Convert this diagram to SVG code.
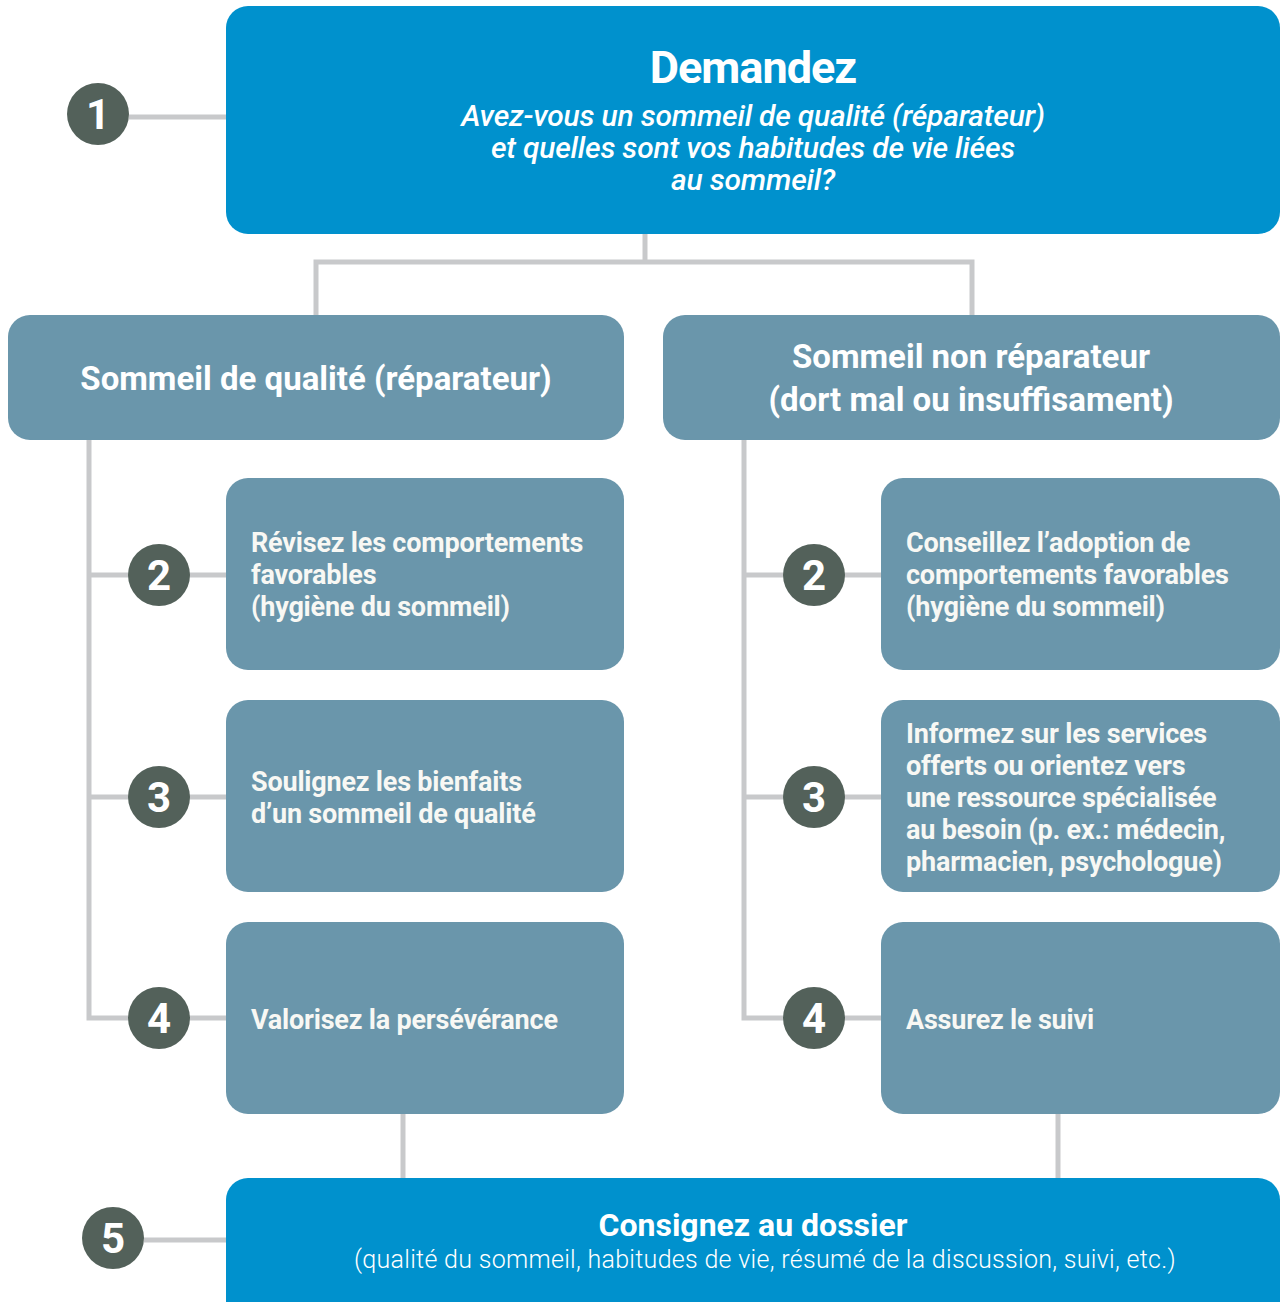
<svg xmlns="http://www.w3.org/2000/svg" width="1286" height="1302" viewBox="0 0 1286 1302">
<style>
.blue{fill:#0091cd}
.steel{fill:#6a96ab}
.circ{fill:#53615a}
.ln{stroke:#c8c9cb;stroke-width:5;fill:none}
.num{font-family:Roboto,"Liberation Sans",sans-serif;font-weight:700;font-size:42px;fill:#ffffff;text-anchor:middle}
.title{font-family:Roboto,"Liberation Sans",sans-serif;font-weight:700;fill:#ffffff;text-anchor:middle}
.it{font-family:Roboto,"Liberation Sans",sans-serif;font-style:italic;font-weight:500;font-size:30px;fill:#ffffff;text-anchor:middle;letter-spacing:-0.2px}
.body{font-family:Roboto,"Liberation Sans",sans-serif;font-weight:700;font-size:27px;fill:#f8f8f4;letter-spacing:-0.2px}
.sub{font-family:Roboto,"Liberation Sans",sans-serif;font-weight:300;font-size:25px;fill:#ffffff;text-anchor:middle;letter-spacing:0.3px}
</style>
<rect width="1286" height="1302" fill="#ffffff"/>
<g id="connectors">
<line class="ln" x1="129" y1="117" x2="228" y2="117"/>
<polyline class="ln" points="645,232 645,262"/>
<polyline class="ln" points="316,317 316,262 972,262 972,317"/>
<polyline class="ln" points="89,438 89,1018 228,1018"/>
<line class="ln" x1="89" y1="575" x2="228" y2="575"/>
<line class="ln" x1="89" y1="797" x2="228" y2="797"/>
<polyline class="ln" points="744,438 744,1018 883,1018"/>
<line class="ln" x1="744" y1="575" x2="883" y2="575"/>
<line class="ln" x1="744" y1="797" x2="883" y2="797"/>
<line class="ln" x1="403" y1="1112" x2="403" y2="1180"/>
<line class="ln" x1="1058" y1="1112" x2="1058" y2="1180"/>
<line class="ln" x1="144" y1="1240" x2="228" y2="1240"/>
</g>
<g id="n1">
<rect class="blue" x="226" y="6" width="1054" height="228" rx="22"/>
<text class="title" x="753" y="83" font-size="45" letter-spacing="-1">Demandez</text>
<text class="it" x="753" y="126">Avez-vous un sommeil de qualité (réparateur)</text>
<text class="it" x="753" y="158">et quelles sont vos habitudes de vie liées</text>
<text class="it" x="753" y="190">au sommeil?</text>
</g>
<g id="c1"><circle class="circ" cx="98" cy="114" r="31"/><text class="num" x="98" y="129">1</text></g>
<g id="left-head">
<rect class="steel" x="8" y="315" width="616" height="125" rx="22"/>
<text class="title" x="316" y="390" font-size="33">Sommeil de qualité (réparateur)</text>
</g>
<g id="right-head">
<rect class="steel" x="663" y="315" width="617" height="125" rx="22"/>
<text class="title" x="971" y="368" font-size="33">Sommeil non réparateur</text>
<text class="title" x="971" y="411" font-size="33">(dort mal ou insuffisament)</text>
</g>
<g id="l2">
<rect class="steel" x="226" y="478" width="398" height="192" rx="22"/>
<text class="body" x="251" y="552">Révisez les comportements</text>
<text class="body" x="251" y="584">favorables</text>
<text class="body" x="251" y="616">(hygiène du sommeil)</text>
</g>
<g id="l3">
<rect class="steel" x="226" y="700" width="398" height="192" rx="22"/>
<text class="body" x="251" y="791">Soulignez les bienfaits</text>
<text class="body" x="251" y="823">d’un sommeil de qualité</text>
</g>
<g id="l4">
<rect class="steel" x="226" y="922" width="398" height="192" rx="22"/>
<text class="body" x="251" y="1029">Valorisez la persévérance</text>
</g>
<g id="r2">
<rect class="steel" x="881" y="478" width="399" height="192" rx="22"/>
<text class="body" x="906" y="552">Conseillez l’adoption de</text>
<text class="body" x="906" y="584">comportements favorables</text>
<text class="body" x="906" y="616">(hygiène du sommeil)</text>
</g>
<g id="r3">
<rect class="steel" x="881" y="700" width="399" height="192" rx="22"/>
<text class="body" x="906" y="743">Informez sur les services</text>
<text class="body" x="906" y="775">offerts ou orientez vers</text>
<text class="body" x="906" y="807">une ressource spécialisée</text>
<text class="body" x="906" y="839">au besoin (p. ex.: médecin,</text>
<text class="body" x="906" y="871">pharmacien, psychologue)</text>
</g>
<g id="r4">
<rect class="steel" x="881" y="922" width="399" height="192" rx="22"/>
<text class="body" x="906" y="1029">Assurez le suivi</text>
</g>
<g id="cl2"><circle class="circ" cx="159" cy="575" r="31"/><text class="num" x="159" y="590">2</text></g>
<g id="cl3"><circle class="circ" cx="159" cy="797" r="31"/><text class="num" x="159" y="812">3</text></g>
<g id="cl4"><circle class="circ" cx="159" cy="1018" r="31"/><text class="num" x="159" y="1033">4</text></g>
<g id="cr2"><circle class="circ" cx="814" cy="575" r="31"/><text class="num" x="814" y="590">2</text></g>
<g id="cr3"><circle class="circ" cx="814" cy="797" r="31"/><text class="num" x="814" y="812">3</text></g>
<g id="cr4"><circle class="circ" cx="814" cy="1018" r="31"/><text class="num" x="814" y="1033">4</text></g>
<g id="n5">
<rect class="blue" x="226" y="1178" width="1054" height="150" rx="22"/>
<text class="title" x="753" y="1236" font-size="32">Consignez au dossier</text>
<text class="sub" x="765" y="1268">(qualité du sommeil, habitudes de vie, résumé de la discussion, suivi, etc.)</text>
</g>
<g id="c5"><circle class="circ" cx="113" cy="1238" r="31"/><text class="num" x="113" y="1253">5</text></g>
</svg>
